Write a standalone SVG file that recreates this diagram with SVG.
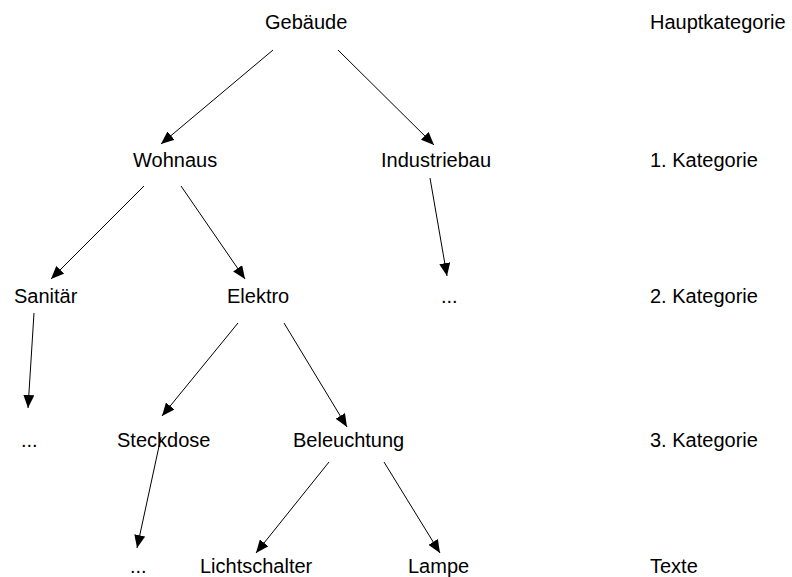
<svg xmlns="http://www.w3.org/2000/svg" width="792" height="577" viewBox="0 0 792 577">
  <style>
    text { font-family: "Liberation Sans", Arial, sans-serif; font-size: 20px; fill: #000; }
    .edge { stroke: #000; stroke-width: 1; fill: none; marker-end: url(#arrow); }
  </style>
  <defs>
    <marker id="arrow" markerUnits="userSpaceOnUse" markerWidth="14" markerHeight="11" refX="13" refY="5.5" orient="auto">
      <path d="M0,0 L13,5.5 L0,11 z" fill="#000"/>
    </marker>
  </defs>
  <rect width="792" height="577" fill="#fff"/>

  <!-- tree nodes -->
  <g id="gebaeude"><text x="265" y="29">Gebäude</text></g>
  <g id="wohnaus"><text x="133" y="167">Wohnaus</text></g>
  <g id="industriebau"><text x="381" y="167">Industriebau</text></g>
  <g id="sanitaer"><text x="14" y="303">Sanitär</text></g>
  <g id="elektro"><text x="227" y="303">Elektro</text></g>
  <g id="industrie-more"><text x="441" y="303">...</text></g>
  <g id="sanitaer-more"><text x="21" y="447">...</text></g>
  <g id="steckdose"><text x="117" y="447">Steckdose</text></g>
  <g id="beleuchtung"><text x="293" y="447">Beleuchtung</text></g>
  <g id="steckdose-more"><text x="130" y="573">...</text></g>
  <g id="lichtschalter"><text x="200" y="573">Lichtschalter</text></g>
  <g id="lampe"><text x="408" y="573">Lampe</text></g>

  <!-- level legend -->
  <g id="level-0"><text x="650" y="29">Hauptkategorie</text></g>
  <g id="level-1"><text x="650" y="167">1. Kategorie</text></g>
  <g id="level-2"><text x="650" y="303">2. Kategorie</text></g>
  <g id="level-3"><text x="650" y="447">3. Kategorie</text></g>
  <g id="level-4"><text x="650" y="573">Texte</text></g>

  <!-- connectors -->
  <g id="connectors">
    <line class="edge" x1="273" y1="50" x2="161" y2="144"/>
    <line class="edge" x1="338" y1="50" x2="434" y2="145"/>
    <line class="edge" x1="144" y1="186" x2="51" y2="279"/>
    <line class="edge" x1="181" y1="186" x2="245" y2="279"/>
    <line class="edge" x1="430" y1="178" x2="447" y2="276"/>
    <line class="edge" x1="34" y1="313" x2="28" y2="408"/>
    <line class="edge" x1="238" y1="323" x2="162" y2="416"/>
    <line class="edge" x1="284" y1="323" x2="347" y2="427"/>
    <line class="edge" x1="161" y1="437" x2="137" y2="548"/>
    <line class="edge" x1="329" y1="462" x2="256" y2="553"/>
    <line class="edge" x1="384" y1="462" x2="440" y2="553"/>
  </g>
</svg>
